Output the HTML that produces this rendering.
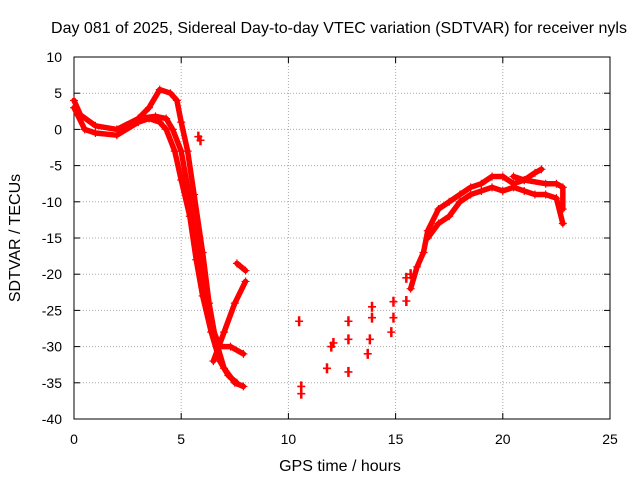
<!DOCTYPE html>
<html><head><meta charset="utf-8"><style>
body{margin:0;background:#fff;}
svg{display:block;font-family:"Liberation Sans",sans-serif;}
</style></head><body>
<svg id="chart" width="640" height="480">
<text x="339" y="33" font-size="16" text-anchor="middle">Day 081 of 2025, Sidereal Day-to-day VTEC variation (SDTVAR) for receiver nyls</text>
<text x="340" y="471" font-size="16" text-anchor="middle">GPS time / hours</text>
<text transform="translate(20,238) rotate(-90)" font-size="16" text-anchor="middle">SDTVAR / TECUs</text>
<g id="grid"></g><g id="axes"></g><g id="marks"></g>
</svg>
<script>
const xTicks=[0,5,10,15,20,25];
const yTicks=[10,5,0,-5,-10,-15,-20,-25,-30,-35,-40];
const trackA=[[0,4],[0.3,2],[1,0.5],[2,0],[3,1.5],[3.5,3],[4,5.5],[4.5,5],[4.8,4],[5,1],[5.3,-3],[5.6,-9],[6,-17],[6.3,-24],[6.6,-29],[7,-33],[7.5,-35],[7.9,-35.5]];
const trackB=[[0,3],[0.5,0],[1,-0.5],[2,-0.8],[3,1],[3.5,1.5],[4,1],[4.3,0],[4.7,-3],[5,-7],[5.4,-12],[5.7,-18],[6,-23],[6.4,-28],[6.8,-32],[7.2,-34],[7.6,-35]];
const trackC=[[3,1.5],[3.8,1.8],[4.3,1.5],[4.6,0],[5,-3],[5.3,-8],[5.6,-14],[6,-21],[6.4,-27],[6.8,-30],[7.3,-30],[7.9,-31]];
const trackD=[[6.5,-32],[7,-28],[7.5,-24],[8,-21]];
const trackE=[[7.6,-18.5],[8,-19.5]];
const trackF=[[15.7,-22],[16,-19],[16.3,-17],[16.5,-14],[17,-11],[17.5,-10],[18,-9],[18.5,-8],[19,-7.5],[19.5,-6.5],[20,-6.5],[20.5,-7.5],[21,-7],[21.5,-6],[21.8,-5.5]];
const trackG=[[16.5,-15],[17,-13],[17.5,-12],[18,-10],[18.5,-9],[19,-8.5],[19.5,-8],[20,-8.5],[20.5,-8],[21,-8.5],[21.5,-9],[22,-9],[22.5,-9.5],[22.8,-13]];
const trackH=[[20.5,-6.5],[21,-7],[22,-7.5],[22.5,-7.5],[22.8,-8],[22.8,-11]];
const scatter=[[5.8,-1],[5.9,-1.5],[10.5,-26.5],[10.6,-35.5],[10.6,-36.5],[11.8,-33],[12,-30],[12.1,-29.5],[12.8,-33.5],[12.8,-29],[12.8,-26.5],[13.7,-31],[13.8,-29],[13.9,-26],[13.9,-24.5],[14.8,-28],[14.9,-26],[14.9,-23.8],[15.5,-23.7],[15.5,-20.5],[15.7,-20]];
const X0=74,X1=610,Y0=419,Y1=57;
const xs=v=>X0+(v-0)/25*(X1-X0);
const ys=v=>Y0-(v+40)/50*(Y0-Y1);
const NS="http://www.w3.org/2000/svg";
function mk(t,a,p){const e=document.createElementNS(NS,t);for(const k in a)e.setAttribute(k,a[k]);p.appendChild(e);return e;}
const grid=document.getElementById('grid'),axes=document.getElementById('axes'),marks=document.getElementById('marks');
xTicks.forEach(t=>{const x=xs(t);
 if(t>0&&t<25){const g=mk('line',{x1:x,x2:x,y1:Y1,y2:Y0,stroke:'#aaa','stroke-dasharray':'1,2'},grid);}
 mk('line',{x1:x,x2:x,y1:Y0,y2:Y0-6,stroke:'#000'},axes);mk('line',{x1:x,x2:x,y1:Y1,y2:Y1+6,stroke:'#000'},axes);
 const l=mk('text',{x:x,y:Y0+25,'font-size':14,'text-anchor':'middle'},axes);l.textContent=t;
 });
yTicks.forEach(t=>{const y=ys(t);
 if(t>-40&&t<10){const g=mk('line',{x1:X0,x2:X1,y1:y,y2:y,stroke:'#aaa','stroke-dasharray':'1,2'},grid);}
 mk('line',{x1:X0,x2:X0+6,y1:y,y2:y,stroke:'#000'},axes);mk('line',{x1:X1,x2:X1-6,y1:y,y2:y,stroke:'#000'},axes);
 const l=mk('text',{x:X0-12,y:y+5,'font-size':14,'text-anchor':'end'},axes);l.textContent=t;
 });
const fr=mk('rect',{x:X0,y:Y1,width:X1-X0,height:Y0-Y1,fill:'none',stroke:'#000'},axes);

function plus(p,name,w){const x=xs(p[0]),y=ys(p[1]);
 const e=mk('path',{d:`M${x-4},${y}H${x+4}M${x},${y-4}V${y+4}`,stroke:'#f00','stroke-width':w},marks);
 }
[trackA,trackB,trackC,trackD,trackE,trackF,trackG,trackH].forEach((tr,i)=>{
 const pl=mk('polyline',{points:tr.map(p=>xs(p[0])+','+ys(p[1])).join(' '),fill:'none',stroke:'#f00','stroke-width':5.5,'stroke-linejoin':'round','stroke-linecap':'round'},marks);
 
 tr.forEach(p=>plus(p,'data-point',1.2));});
scatter.forEach(p=>{plus(p,'scatter-point',1.6);
 const x=xs(p[0]),y=ys(p[1]);
 const c=mk('line',{x1:x,x2:x,y1:y-5,y2:y+5,stroke:'#f00','stroke-width':2.5},marks);
 });
</script>
</body></html>
